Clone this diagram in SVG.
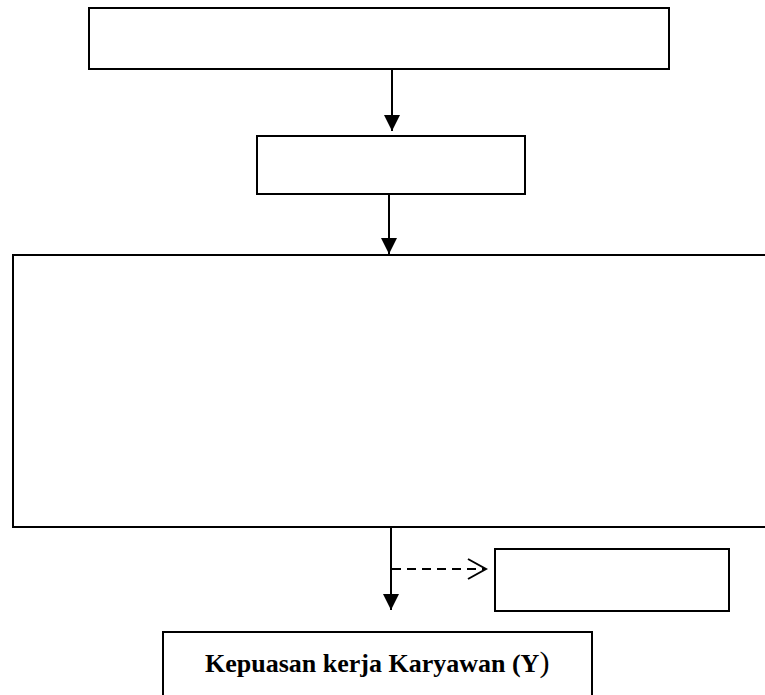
<svg xmlns="http://www.w3.org/2000/svg" width="765" height="695" viewBox="0 0 765 695">
<style>
.box{fill:#fff;stroke:#000;stroke-width:2}
.ln{stroke:#000;stroke-width:2;fill:none}
.dash{stroke:#000;stroke-width:2;fill:none;stroke-dasharray:9 6}
.lbl{font-family:"Liberation Serif","Times New Roman",serif;font-weight:bold;font-size:26px;fill:#000}
</style>
<defs>
<marker id="ah" markerWidth="16" markerHeight="16" viewBox="0 0 16 16" refX="16" refY="8" orient="auto" markerUnits="userSpaceOnUse">
<path d="M0,0 L16,8 L0,16 Z" fill="#000"/>
</marker>
<marker id="oh" markerWidth="22" markerHeight="22" viewBox="0 0 22 22" refX="20" refY="11" orient="auto" markerUnits="userSpaceOnUse">
<path d="M2,1 L20,11 L2,21" fill="none" stroke="#000" stroke-width="2"/>
</marker>
</defs>
<g id="node-top"><rect class="box" x="89" y="8" width="580" height="61"/></g>
<g id="node-mid"><rect class="box" x="257" y="136" width="268" height="58"/></g>
<g id="node-large"><rect class="box" x="13" y="255" width="760" height="272"/></g>
<g id="node-side"><rect class="box" x="495" y="549" width="234" height="62"/></g>
<g id="node-bottom"><rect class="box" x="163" y="632" width="429" height="70"/>
<text class="lbl" x="205" y="672">Kepuasan kerja Karyawan (Y<tspan font-weight="normal" font-size="30">)</tspan></text></g>
<g id="connectors">
<line class="ln" x1="392" y1="69" x2="392" y2="131" marker-end="url(#ah)"/>
<line class="ln" x1="389" y1="194" x2="389" y2="254" marker-end="url(#ah)"/>
<line class="ln" x1="391" y1="527" x2="391" y2="610" marker-end="url(#ah)"/>
<line class="dash" x1="392" y1="569" x2="486" y2="569" marker-end="url(#oh)"/>
</g>
</svg>
